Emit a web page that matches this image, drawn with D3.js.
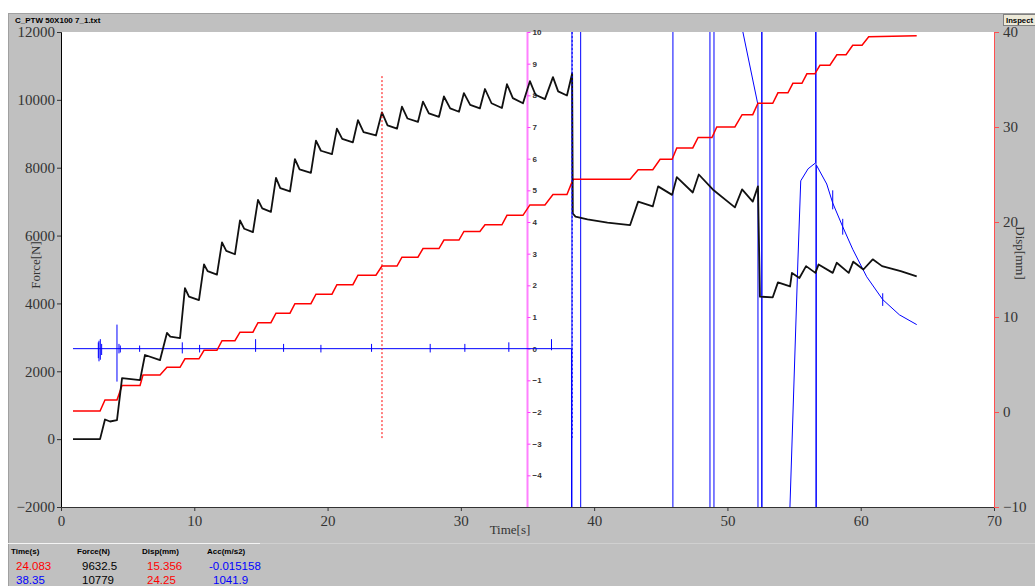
<!DOCTYPE html>
<html>
<head>
<meta charset="utf-8">
<script src="https://cdn.jsdelivr.net/npm/d3@7"></script>
<style>
  body { margin: 0; background: #c0c0c0; overflow: hidden; }
  svg { display: block; }
</style>
</head>
<body>
<svg id="chart" width="1035" height="586"></svg>
<script>
// Axis ticks
const timeTicks = [0, 10, 20, 30, 40, 50, 60, 70];
const forceTicks = [-2000, 0, 2000, 4000, 6000, 8000, 10000, 12000];
const dispTicks = [-10, 0, 10, 20, 30, 40];
const accTicks = [-4, -3, -2, -1, 0, 1, 2, 3, 4, 5, 6, 7, 8, 9, 10];

// Force [s, N]
const forceData = [
  [0.9, 0], [2.93, 0], [3.3, 580], [3.68, 520], [4.2, 560], [4.58, 1800], [5.93, 1740],
  [6.3, 2480], [7.43, 2330], [7.95, 3130], [8.2, 3020], [8.93, 2980], [9.3, 4450],
  [9.6, 4200], [10.35, 4100], [10.73, 5150], [11.0, 4950], [11.7, 4850], [12.08, 5800],
  [12.4, 5550], [13.05, 5450], [13.43, 6450], [13.75, 6200], [14.4, 6100], [14.78, 7050],
  [15.1, 6800], [15.75, 6700], [16.13, 7700], [16.45, 7400], [17.18, 7300], [17.55, 8250],
  [17.9, 7950], [18.75, 7850], [19.13, 8800], [19.5, 8500], [20.33, 8400], [20.7, 9150],
  [21.1, 8850], [21.9, 8750], [22.28, 9400], [22.7, 9050], [23.63, 8950], [24.08, 9632],
  [24.5, 9250], [25.21, 9150], [25.58, 9800], [26.0, 9450], [26.78, 9350], [27.16, 9950],
  [27.6, 9600], [28.36, 9500], [28.73, 10100], [29.2, 9750], [29.86, 9650], [30.23, 10200],
  [30.7, 9850], [31.43, 9750], [31.81, 10320], [32.3, 9900], [33.08, 9760], [33.46, 10460],
  [33.9, 10050], [34.66, 9900], [35.18, 10550], [35.6, 10150], [36.31, 10020], [36.91, 10670],
  [37.3, 10250], [37.96, 10130], [38.35, 10779],
  [38.4, 6650], [38.6, 6560], [39.5, 6480], [41.0, 6380], [42.7, 6310], [43.3, 7000],
  [44.4, 6860], [44.8, 7450], [45.85, 7200], [46.2, 7720], [47.4, 7270], [47.85, 7800],
  [48.9, 7360], [50.56, 6830], [51.1, 7360], [51.9, 7000], [52.29, 7450], [52.44, 4200],
  [53.4, 4180], [53.79, 4620], [54.7, 4500], [54.84, 4900], [55.4, 4750], [55.9, 5100],
  [56.6, 4900], [56.84, 5150], [57.9, 4900], [58.2, 5200], [59.1, 4900], [59.44, 5230],
  [60.2, 5000], [60.9, 5300], [61.6, 5100], [63.0, 4950], [64.2, 4800]
];

// Displacement [s, mm]
const dispData = [
  [0.9, 0.1], [2.93, 0.1], [3.3, 1.26], [4.2, 1.26], [4.58, 2.8], [5.93, 2.8], [6.15, 3.9],
  [7.43, 3.9], [7.95, 4.7], [8.93, 4.7], [9.3, 5.6], [10.35, 5.6], [10.73, 6.5], [11.7, 6.5],
  [12.08, 7.5], [13.05, 7.5], [13.43, 8.4], [14.4, 8.4], [14.78, 9.4], [15.75, 9.4],
  [16.13, 10.4], [17.18, 10.4], [17.55, 11.4], [18.75, 11.4], [19.13, 12.4], [20.33, 12.4],
  [20.7, 13.4], [21.9, 13.4], [22.28, 14.4], [23.63, 14.4], [24.08, 15.36], [25.21, 15.36],
  [25.58, 16.3], [26.78, 16.3], [27.16, 17.2], [28.36, 17.2], [28.73, 18.1], [29.86, 18.1],
  [30.23, 19.0], [31.43, 19.0], [31.81, 19.7], [33.08, 19.7], [33.46, 20.7], [34.66, 20.7],
  [35.18, 21.8], [36.31, 21.8], [36.91, 22.9], [37.96, 22.9], [38.35, 24.25], [38.45, 24.5],
  [42.7, 24.5], [43.3, 25.5], [44.4, 25.5], [44.95, 26.6], [45.85, 26.6], [46.2, 27.8],
  [47.4, 27.8], [47.8, 28.9], [48.84, 28.9], [49.2, 30.0], [50.56, 30.0], [51.1, 31.3],
  [51.9, 31.3], [52.29, 32.5], [53.4, 32.5], [53.79, 33.6], [54.54, 33.6], [54.91, 34.6],
  [55.59, 34.6], [55.96, 35.6], [56.56, 35.6], [56.94, 36.5], [57.69, 36.5], [58.21, 37.6],
  [58.9, 37.6], [59.4, 38.6], [60.1, 38.6], [60.6, 39.5], [64.2, 39.6]
];

// Acceleration [s, m/s2] (values beyond the axis run off the chart)
const accData = [
  [0.9, 0], [38.3, 0], [38.33, -60], [38.34, 60], [38.98, 60], [39.0, -60], [45.9, -60],
  [45.92, 60], [48.68, 60], [48.7, -60], [48.98, -60], [49.0, 60], [51.0, 60], [51.16, 10],
  [52.29, 7.7], [52.3, -60], [52.57, -60], [52.58, 60], [52.6, -60], [54.5, -60],
  [54.69, -5.0], [55.29, 2.8], [55.5, 5.3], [56.05, 5.68], [56.62, 5.87], [56.64, 60],
  [56.65, -60], [56.67, 5.8], [57.45, 5.2], [57.9, 4.6], [58.65, 3.85], [59.4, 3.14],
  [60.45, 2.27], [61.65, 1.55], [62.9, 1.07], [64.2, 0.76]
];

// Noise spikes on the acceleration trace [s, high, low]
const accSpikes = [
  [2.8, 0.2, -0.3], [2.85, 0.25, -0.4], [2.95, 0.3, -0.35], [3.05, 0.15, -0.2],
  [4.2, 0.76, -1.04], [4.35, 0.15, -0.15], [4.45, 0.1, -0.12], [5.9, 0.1, -0.1],
  [9.1, 0.2, -0.15], [10.4, 0.12, -0.12], [14.6, 0.3, -0.1], [16.7, 0.15, -0.1],
  [19.5, 0.12, -0.12], [23.3, 0.15, -0.1], [27.7, 0.15, -0.12], [30.3, 0.15, -0.1],
  [33.6, 0.2, -0.1], [36.8, 0.3, -0.05],
  [57.9, 5.0, 4.4], [58.65, 4.1, 3.6], [61.65, 1.75, 1.35]
];

// Cursors [s, force top, force bottom]
const cursors = [
  { t: 24.083, hi: 10700, lo: 0, color: '#ff0000' },
  { t: 38.35, hi: 12000, lo: 0, color: '#0000ff' }
];

// Read-out table
const readoutHeaders = ['Time(s)', 'Force(N)', 'Disp(mm)', 'Acc(m/s2)'];
const readoutRows = [
  ['24.083', '9632.5', '15.356', '-0.015158'],
  ['38.35', '10779', '24.25', '1041.9']
];
const readoutColors = [
  ['#ff0000', '#000000', '#ff0000', '#0000ff'],
  ['#0000ff', '#000000', '#ff0000', '#0000ff']
];

const svg = d3.select('#chart');
const plotL = 61, plotR = 994, plotT = 32, plotB = 507;

const x = d3.scaleLinear([0, 70], [plotL, plotR]);
const yForce = d3.scaleLinear([-2000, 12000], [plotB, plotT]);
const yDisp = d3.scaleLinear([-10, 40], [plotB, plotT]);
const yAcc = d3.scaleLinear([-5, 10], [plotB, plotT]);

const sans = 'Liberation Sans, Arial, sans-serif';
const serif = 'Liberation Serif, Times New Roman, serif';

// Window frame
svg.append('rect').attr('width', 1035).attr('height', 586).attr('fill', '#c0c0c0');
svg.append('rect').attr('width', 1035).attr('height', 13).attr('fill', '#ffffff');
svg.append('rect').attr('width', 8).attr('height', 586).attr('fill', '#ffffff');
svg.append('line').attr('x1', 8).attr('x2', 1035).attr('y1', 13.5).attr('y2', 13.5).attr('stroke', '#a0a0a0');
svg.append('line').attr('x1', 8.5).attr('x2', 8.5).attr('y1', 13).attr('y2', 586).attr('stroke', '#a0a0a0');
svg.append('text').
  attr('x', 15).attr('y', 23).
  attr('font-family', sans).
  attr('font-size', 8).attr('font-weight', 'bold').attr('fill', '#000').
  text('C_PTW 50X100 7_1.txt');

// Inspect button, squeezed against the window edge
svg.append('rect').
  attr('x', 1003.5).attr('y', 14.5).attr('width', 40).attr('height', 11).
  attr('fill', '#ece9d8').attr('stroke', '#808080');
svg.append('text').
  attr('x', 1006).attr('y', 23).
  attr('font-family', sans).
  attr('font-size', 7.5).attr('font-weight', 'bold').
  attr('textLength', 27).attr('lengthAdjust', 'spacingAndGlyphs').
  text('Inspect');

// Plot area
svg.append('rect').
  attr('x', plotL).attr('y', plotT).attr('width', plotR - plotL).attr('height', plotB - plotT).
  attr('fill', '#ffffff');

svg.append('defs').append('clipPath').attr('id', 'plot').
  append('rect').
    attr('x', plotL).attr('y', plotT).attr('width', plotR - plotL).attr('height', plotB - plotT);

// Left force axis
const gLeft = svg.append('g').attr('transform', `translate(${plotL},0)`);
gLeft.call(d3.axisLeft(yForce).tickValues(d3.range(-2000, 12001, 400)).tickSize(2).tickFormat(''));
gLeft.call(d3.axisLeft(yForce).tickValues(forceTicks).tickSize(4).tickFormat(d3.format('d')));
gLeft.selectAll('path.domain').attr('stroke', '#000');
gLeft.selectAll('line').attr('stroke', '#333');
gLeft.selectAll('text').
  attr('font-family', serif).attr('font-size', 15).attr('fill', '#333').attr('x', -6);

// Bottom time axis
const gBottom = svg.append('g').attr('transform', `translate(0,${plotB})`);
gBottom.call(d3.axisBottom(x).tickValues(d3.range(0, 71, 2)).tickSize(2).tickFormat(''));
gBottom.call(d3.axisBottom(x).tickValues(timeTicks).tickSize(4).tickFormat(d3.format('d')));
gBottom.selectAll('path.domain').attr('stroke', '#333');
gBottom.selectAll('line').attr('stroke', '#333');
gBottom.selectAll('text').
  attr('font-family', serif).attr('font-size', 15).attr('fill', '#333').attr('y', 8);

// Right displacement axis
const gRight = svg.append('g').attr('transform', `translate(${plotR},0)`);
gRight.call(d3.axisRight(yDisp).tickValues(d3.range(-10, 41, 2)).tickSize(3).tickFormat(''));
gRight.call(d3.axisRight(yDisp).tickValues(dispTicks).tickSize(5).tickFormat(d3.format('d')));
gRight.selectAll('path.domain').attr('stroke', '#ff5050');
gRight.selectAll('line').attr('stroke', '#ff5050');
gRight.selectAll('text').
  attr('font-family', serif).attr('font-size', 15).attr('fill', '#333').attr('x', 9);

// Axis titles
svg.append('text').
  attr('x', 510).attr('y', 534).attr('text-anchor', 'middle').
  attr('font-family', serif).attr('font-size', 13).attr('fill', '#333').
  text('Time[s]');
svg.append('text').
  attr('transform', 'translate(40,265) rotate(-90)').attr('text-anchor', 'middle').
  attr('font-family', serif).attr('font-size', 13).attr('fill', '#333').
  text('Force[N]');
svg.append('text').
  attr('transform', 'translate(1016,253) rotate(90)').attr('text-anchor', 'middle').
  attr('font-family', serif).attr('font-size', 13).attr('fill', '#333').
  text('Disp[mm]');

// Acceleration axis drawn inside the plot at 35 s
const gAcc = svg.append('g').attr('transform', `translate(${x(35)},0)`);
gAcc.append('line').
  attr('y1', plotT).attr('y2', plotB).
  attr('stroke', '#ff80ff').attr('stroke-width', 2);
gAcc.call(d3.axisRight(yAcc).tickValues(accTicks).tickSize(3).tickFormat(d3.format('d')));
gAcc.select('path.domain').remove();
gAcc.selectAll('.tick line').attr('stroke', '#ff40ff');
gAcc.selectAll('text').
  attr('font-family', sans).
  attr('font-size', 8).attr('font-weight', 'bold').attr('fill', '#333').attr('x', 5);

// Series
const series = svg.append('g').attr('clip-path', 'url(#plot)');

series.append('path').
  datum(accData).
  attr('fill', 'none').attr('stroke', '#0000ff').attr('stroke-width', 1).
  attr('d', d3.line().x((d) => x(d[0])).y((d) => yAcc(d[1])));

series.selectAll('.spike').
  data(accSpikes).
  enter().append('line').
    attr('class', 'spike').
    attr('x1', (d) => x(d[0])).attr('x2', (d) => x(d[0])).
    attr('y1', (d) => yAcc(d[1])).attr('y2', (d) => yAcc(d[2])).
    attr('stroke', '#0000ff').attr('stroke-width', 1);

series.append('path').
  datum(dispData).
  attr('fill', 'none').attr('stroke', '#ff0000').attr('stroke-width', 1.5).
  attr('d', d3.line().x((d) => x(d[0])).y((d) => yDisp(d[1])));

series.append('path').
  datum(forceData).
  attr('fill', 'none').attr('stroke', '#111').attr('stroke-width', 1.8).
  attr('stroke-linejoin', 'round').
  attr('d', d3.line().x((d) => x(d[0])).y((d) => yForce(d[1])));

// Cursors
series.selectAll('.cursor').
  data(cursors).
  enter().append('line').
    attr('class', 'cursor').
    attr('x1', (d) => x(d.t)).attr('x2', (d) => x(d.t)).
    attr('y1', (d) => yForce(d.hi)).attr('y2', (d) => yForce(d.lo)).
    attr('stroke', (d) => d.color).attr('stroke-width', 1).attr('stroke-dasharray', '2,2');

// Read-out panel
svg.append('line').attr('x1', 8).attr('x2', 260).attr('y1', 543.5).attr('y2', 543.5).attr('stroke', '#f4f4f4');
svg.append('line').attr('x1', 260).attr('x2', 1035).attr('y1', 543.5).attr('y2', 543.5).attr('stroke', '#d0d0d0');

const colX = [11, 77, 142, 207];
const valX = [16, 82, 147, 209];
svg.selectAll('.head').
  data(readoutHeaders).
  enter().append('text').
    attr('class', 'head').
    attr('x', (d, i) => colX[i]).attr('y', 554).
    attr('font-family', sans).
    attr('font-size', 8).attr('font-weight', 'bold').
    text((d) => d);

readoutRows.forEach((row, r) => {
  svg.selectAll(`.row${r}`).
    data(row).
    enter().append('text').
      attr('class', `row${r}`).
      attr('x', (d, i) => valX[i] + (r === 1 && i === 3 ? 4 : 0)).attr('y', 570 + r * 14).
      attr('font-family', sans).
      attr('font-size', 11.5).
      attr('fill', (d, i) => readoutColors[r][i]).
      text((d) => d);
});
</script>
</body>
</html>
